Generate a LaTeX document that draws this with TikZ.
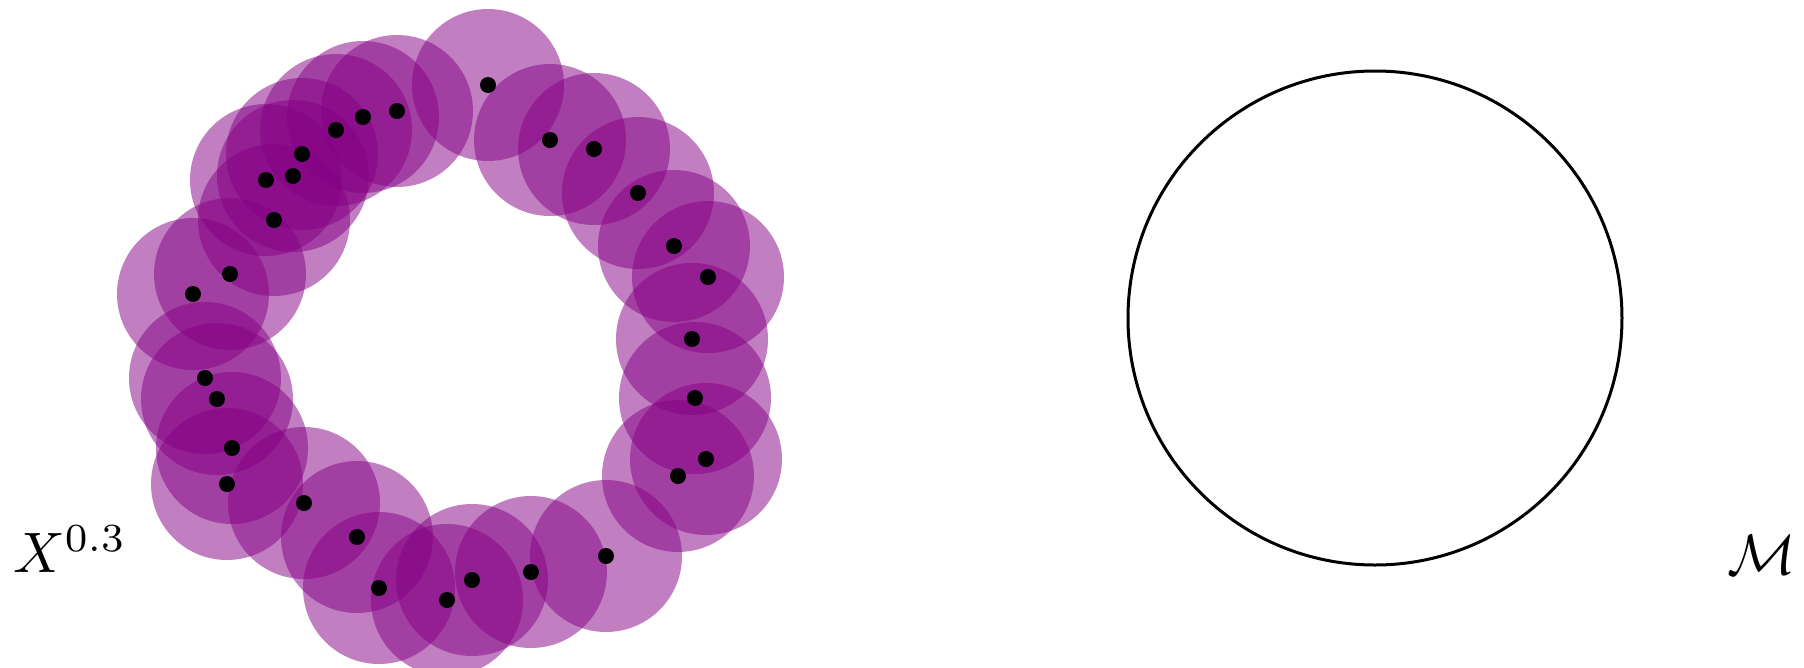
\documentclass[tikz,border=0pt]{standalone}
\usepackage{amsmath}
\definecolor{ballpurple}{RGB}{132,0,132}
\begin{document}
\begin{tikzpicture}[x=0.2pt,y=-0.2pt,
  ball/.style={fill=ballpurple,fill opacity=0.5},
  pt/.style={fill=black},
  lbl/.style={inner sep=0pt,scale=1.14}]
\useasboundingbox (0,0) rectangle (1804,668);
\def\pts{488/85,397/111,363/117,336/130,302/154,293/176,266/180,274/220,230/274,193/294,550/140,594/149,638/193,674/246,708/277,692/339,695/398,706/459,678/476,606/556,531/572,205/378,217/399,232/448,227/484,304/503,357/537,379/588,447/600,472/580}
\foreach \x/\y in \pts {\fill[ball] (\x,\y) circle[radius=76];}
\foreach \x/\y in \pts {\fill[pt] (\x,\y) circle[radius=8];}
\draw[line width=0.6pt] (1375,318) circle[radius=247];
\node[lbl,anchor=base west] (xlab) at (12,572) {$X^{0.3}$};
\node[lbl,anchor=base east] (mlab) at (1797,574) {$\mathcal{M}$};
\end{tikzpicture}
\end{document}
